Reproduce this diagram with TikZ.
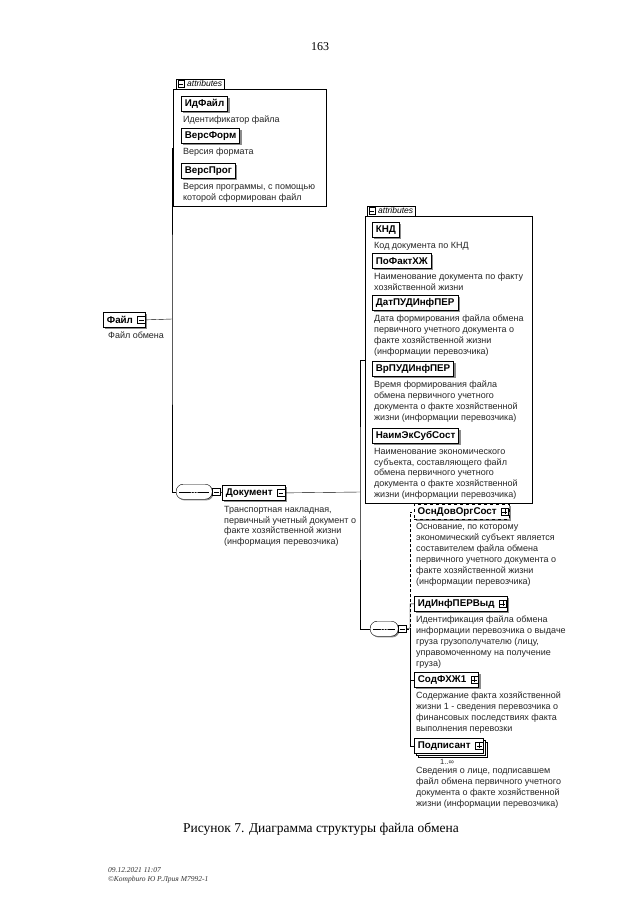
\documentclass[tikz,border=0pt]{standalone}
\usepackage{fontspec}
\setmainfont{Liberation Serif}
\setsansfont{Liberation Sans}
\usetikzlibrary{positioning,shadows}

\definecolor{shadowgray}{RGB}{140,140,140}
\tikzset{
  xsd elem/.style={draw=black,thick,fill=white,anchor=north west,inner xsep=3.5pt,
    inner ysep=2pt,minimum height=15pt,font=\sffamily\bfseries\fontsize{9.8}{11}\selectfont,
    drop shadow={shadow xshift=1.8pt,shadow yshift=-1.8pt,fill=shadowgray,opacity=1}},
  xsd optional/.style={xsd elem,dashed,thin},
  xsd many/.style={draw=black,thick,fill=white,anchor=north west,inner xsep=3.5pt,
    inner ysep=2pt,minimum height=15pt,font=\sffamily\bfseries\fontsize{9.8}{11}\selectfont,
    double copy shadow={shadow xshift=2.2pt,shadow yshift=-2.2pt}},
  xsd note/.style={anchor=north west,inner sep=0pt,align=left,
    font=\sffamily\fontsize{9}{10.9}\selectfont,text=black!85},
  xsd attrs/.style={draw=black,thin,fill=white,anchor=north west,inner sep=0pt},
  xsd tab/.style={draw=black,thin,fill=white,anchor=south west,inner xsep=2pt,
    inner ysep=1.8pt,font=\sffamily\itshape\fontsize{8.5}{9}\selectfont},
  xsd seq/.style={draw=black,thin,fill=white,rounded corners=7pt,anchor=north west,
    minimum height=15pt,inner sep=0pt,
    drop shadow={shadow xshift=1.2pt,shadow yshift=-1.2pt,fill=shadowgray,opacity=1},
    path picture={
      \draw ([xshift=3pt]path picture bounding box.west) -- ([xshift=-3pt]path picture bounding box.east);
      \foreach \d in {-2.8,0,2.8}
        \fill ([xshift=\d pt]path picture bounding box.center) circle (1.1pt);}},
  minus box/.style={draw=black,thin,fill=white,minimum size=7.5pt,inner sep=0pt,
    path picture={\draw ([xshift=1.3pt]path picture bounding box.west) -- ([xshift=-1.3pt]path picture bounding box.east);}},
  plus box/.style={draw=black,thin,fill=white,minimum size=7.5pt,inner sep=0pt,
    path picture={\draw ([xshift=1.3pt]path picture bounding box.west) -- ([xshift=-1.3pt]path picture bounding box.east);
      \draw ([yshift=1.3pt]path picture bounding box.south) -- ([yshift=-1.3pt]path picture bounding box.north);}},
  xsd link/.style={draw=black,thin}
}

\begin{document}
\begin{tikzpicture}[x=1pt,y=-1pt]
  \useasboundingbox[fill=white] (0,0) rectangle (640,905);

  \node[font=\fontsize{12}{14}\selectfont] (pagenum) at (320,47) {163};

  % attributes of Файл
  \node[xsd attrs,minimum width=153pt,minimum height=117pt] (attrA) at (173,89) {};
  \node[xsd tab] (tabA) at (176,89) {\kern9pt attributes};
  \node[minus box,minimum size=6.5pt,right=1.8pt of tabA.west] (tabAtog) {};
  \node[xsd elem] (idfile) at (181,96) {ИдФайл};
  \node[xsd note,below right=4pt and 2pt of idfile.south west] (idfilenote) {Идентификатор файла};
  \node[xsd elem] (versform) at (181,128) {ВерсФорм};
  \node[xsd note,below right=4pt and 2pt of versform.south west] (versformnote) {Версия формата};
  \node[xsd elem] (versprog) at (181,163) {ВерсПрог};
  \node[xsd note,below right=4pt and 2pt of versprog.south west] (versprognote)
    {Версия программы, с помощью\\которой сформирован файл};

  % root
  \node[xsd elem] (file) at (103,312) {Файл\kern9pt};
  \node[minus box] (filetog) at ([xshift=-4.5pt]file.east) {};
  \node[xsd note,below right=4pt and 5pt of file.south west] (filenote) {Файл обмена};
  \coordinate (filebus) at (172,319);

  \node[xsd seq,minimum width=36pt] (seqA) at (176,484) {};
  \node[minus box,right=0pt of seqA] (seqAtog) {};
  \node[xsd elem] (doc) at (222,485) {Документ\kern9pt};
  \node[minus box] (doctog) at ([xshift=-4.5pt]doc.east) {};
  \node[xsd note,below right=5pt and 2pt of doc.south west] (docnote)
    {Транспортная накладная,\\первичный учетный документ о\\факте хозяйственной жизни\\(информация перевозчика)};
  \coordinate (docbus) at (360,492);

  % attributes of Документ
  \node[xsd attrs,minimum width=167pt,minimum height=287pt] (attrB) at (365,216) {};
  \node[xsd tab] (tabB) at (367,216) {\kern9pt attributes};
  \node[minus box,minimum size=6.5pt,right=1.8pt of tabB.west] (tabBtog) {};
  \node[xsd elem] (knd) at (372,222) {КНД};
  \node[xsd note,below right=4pt and 2pt of knd.south west] (kndnote) {Код документа по КНД};
  \node[xsd elem] (pofakt) at (372,253) {ПоФактХЖ};
  \node[xsd note,below right=4pt and 2pt of pofakt.south west] (pofaktnote)
    {Наименование документа по факту\\хозяйственной жизни};
  \node[xsd elem] (datpud) at (372,295) {ДатПУДИнфПЕР};
  \node[xsd note,below right=4pt and 2pt of datpud.south west] (datpudnote)
    {Дата формирования файла обмена\\первичного учетного документа о\\факте хозяйственной жизни\\(информации перевозчика)};
  \node[xsd elem] (vrpud) at (372,361) {ВрПУДИнфПЕР};
  \node[xsd note,below right=4pt and 2pt of vrpud.south west] (vrpudnote)
    {Время формирования файла\\обмена первичного учетного\\документа о факте хозяйственной\\жизни (информации перевозчика)};
  \node[xsd elem] (naimek) at (372,428) {НаимЭкСубСост};
  \node[xsd note,below right=4pt and 2pt of naimek.south west] (naimeknote)
    {Наименование экономического\\субъекта, составляющего файл\\обмена первичного учетного\\документа о факте хозяйственной\\жизни (информации перевозчика)};

  % content of Документ
  \node[xsd seq,minimum width=28pt] (seqB) at (370,621) {};
  \node[minus box,right=0pt of seqB] (seqBtog) {};
  \coordinate (seqbus) at (410,628);

  \node[xsd optional] (osnd) at (414,504) {ОснДовОргСост\kern9pt};
  \node[plus box] (osndtog) at ([xshift=-4.5pt]osnd.east) {};
  \node[xsd note,below right=4pt and 2pt of osnd.south west] (osndnote)
    {Основание, по которому\\экономический субъект является\\составителем файла обмена\\первичного учетного документа о\\факте хозяйственной жизни\\(информации перевозчика)};
  \node[xsd elem] (idinf) at (414,596) {ИдИнфПЕРВыд\kern9pt};
  \node[plus box] (idinftog) at ([xshift=-4.5pt]idinf.east) {};
  \node[xsd note,below right=4pt and 2pt of idinf.south west] (idinfnote)
    {Идентификация файла обмена\\информации перевозчика о выдаче\\груза грузополучателю (лицу,\\управомоченному на получение\\груза)};
  \node[xsd elem] (sodfhzh) at (414,672) {СодФХЖ1\kern9pt};
  \node[plus box] (sodfhzhtog) at ([xshift=-4.5pt]sodfhzh.east) {};
  \node[xsd note,below right=4pt and 2pt of sodfhzh.south west] (sodfhzhnote)
    {Содержание факта хозяйственной\\жизни 1 - сведения перевозчика о\\финансовых последствиях факта\\выполнения перевозки};
  \node[xsd many] (podp) at (414,738) {Подписант\kern9pt};
  \node[plus box] (podptog) at ([xshift=-4.5pt]podp.east) {};
  \node[xsd note,font=\sffamily\fontsize{7.5}{9}\selectfont,below right=5pt and 26pt of podp.south west] (podpcount) {1..∞};
  \node[xsd note,below right=3pt and 6pt of podpcount.south west,xshift=-30pt] (podpnote)
    {Сведения о лице, подписавшем\\файл обмена первичного учетного\\документа о факте хозяйственной\\жизни (информации перевозчика)};

  % connectors
  \draw[xsd link] (filetog.east) -- (filebus);
  \draw[xsd link] (attrA.west) -| (filebus) |- (seqA.west);
  \draw[xsd link] (seqAtog.east) -- (doc.west);
  \draw[xsd link] (doctog.east) -- (docbus);
  \draw[xsd link] (attrB.west) -| (docbus) |- (seqB.west);
  \draw[xsd link,densely dashed] (seqBtog.east) -| ([xshift=-4pt]osnd.west) -- (osnd.west);
  \draw[xsd link] (seqBtog.east) -- (seqbus) |- (idinf.west);
  \draw[xsd link] (seqbus) |- (sodfhzh.west);
  \draw[xsd link] (seqbus) |- (podp.west);

  % caption
  \node[font=\fontsize{13.5}{16}\selectfont] (caption) at (321,829)
    {Рисунок 7. Диаграмма структуры файла обмена};
  \node[anchor=north west,align=left,inner sep=0pt,font=\itshape\fontsize{7.5}{9}\selectfont,text=black!80]
    (stamp) at (108,867) {09.12.2021 11:07\\©Kompburo Ю Р.Лрия М7992-1};
\end{tikzpicture}
\end{document}
